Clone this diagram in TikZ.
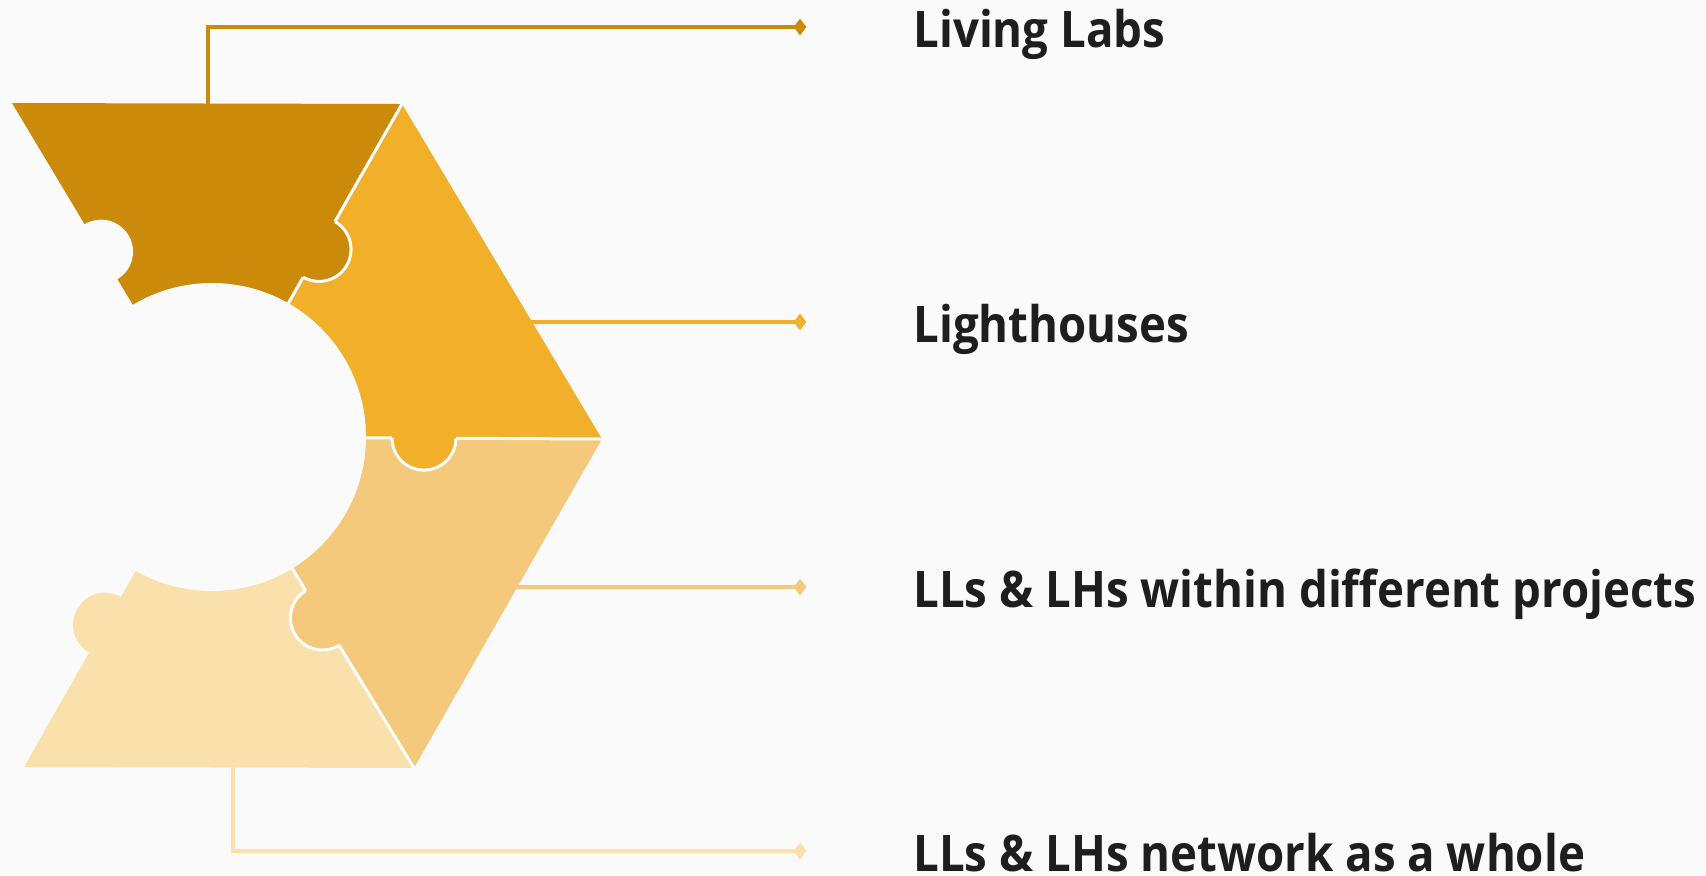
\documentclass[tikz,border=0pt]{standalone}
\usepackage{fontspec}
\setmainfont{Open Sans}
\usetikzlibrary{calc,shapes.geometric}
\definecolor{bgc}{HTML}{FAFAFA}
\definecolor{cA}{HTML}{CC8A0A}
\definecolor{cB}{HTML}{F2B02A}
\definecolor{cC}{HTML}{F5C97B}
\definecolor{cD}{HTML}{FAE0AA}
\definecolor{txt}{HTML}{1E1E1E}
\newcommand\txs{0.905}
\begin{document}
\begin{tikzpicture}[x=0.5pt,y=-0.5pt,
  lbl/.style={anchor=base west, inner sep=0pt, text=txt, font=\fontsize{25.2pt}{30pt}\selectfont\bfseries},
  tip/.style={diamond, minimum width=6.5pt, minimum height=8.5pt, inner sep=0pt, fill=#1},
  conn/.style={draw=#1, line width=1.9pt},
  sep/.style={draw=white, line width=1.5pt}]
\useasboundingbox (0,0) rectangle (1706,875);
\fill[bgc] (0,0) rectangle (1706,875);
% geometry
\coordinate (C) at (212,437);
\coordinate (A) at (12,103);
\coordinate (B) at (402,104);
\coordinate (D) at (602,439);
\coordinate (E) at (414,768);
\coordinate (F) at (24,767);
\coordinate (PB) at ($(C)!77pt!(B)$);
\coordinate (PD) at ($(C)!77pt!(D)$);
\coordinate (PE) at ($(C)!77pt!(E)$);
\coordinate (H1) at ($(C)!108pt!(A)$);
\coordinate (K12) at ($(C)!108pt!(B)$);
\coordinate (K23) at ($(C)!106pt!(D)$);
\coordinate (K34) at ($(C)!106pt!(E)$);
\coordinate (K4) at ($(C)!108pt!(F)$);
% connectors
\coordinate (S1) at (208,115);
\coordinate (S2) at ($(B)!0.6507!(D)+(-12,0)$);
\coordinate (S3) at ($(D)!0.45!(E)+(-12,0)$);
\coordinate (S4) at (233,755);
\node[tip=cA] (d1) at (800,27) {};
\node[tip=cB] (d2) at (800,322) {};
\node[tip=cC] (d3) at (800,587) {};
\node[tip=cD] (d4) at (800,851) {};
\draw[conn=cA] (S1) |- (d1.center);
\draw[conn=cB] (S2) -- (d2.center);
\draw[conn=cC] (S3) -- (d3.center);
\draw[conn=cD] (S4) |- (d4.center);
% pieces
\fill[cA] (A) -- (B) -- (C) -- cycle;
\fill[cB] (B) -- (D) -- (C) -- cycle;
\fill[cC] (D) -- (E) -- (C) -- cycle;
\fill[cD] (E) -- (F) -- (C) -- cycle;
\fill[bgc] (C) circle[radius=77pt];
\fill[bgc] (H1) circle[radius=16pt];
\fill[cD] (K4) circle[radius=16pt];
\draw[sep] (B) -- (PB);
\draw[sep] (D) -- (PD);
\draw[sep] (E) -- (PE);
\fill[cA] (K12) circle[radius=16pt];
\fill[cB] (K23) circle[radius=16pt];
\fill[cC] (K34) circle[radius=16pt];
\begin{scope}
  \clip (B) -- (D) -- (C) -- cycle;
  \draw[sep] (K12) circle[radius=16pt];
\end{scope}
\begin{scope}
  \clip (D) -- (E) -- (C) -- cycle;
  \draw[sep] (K23) circle[radius=16pt];
\end{scope}
\begin{scope}
  \clip (E) -- (F) -- (C) -- cycle;
  \draw[sep] (K34) circle[radius=16pt];
\end{scope}
% labels
\node[lbl] (t1) at (913,47) {\scalebox{\txs}[1]{Living Labs}};
\node[lbl] (t2) at (913,342) {\scalebox{\txs}[1]{Lighthouses}};
\node[lbl] (t3) at (913,607) {\scalebox{\txs}[1]{LLs \& LHs within different projects}};
\node[lbl] (t4) at (913,871) {\scalebox{\txs}[1]{LLs \& LHs network as a whole}};
\end{tikzpicture}
\end{document}
